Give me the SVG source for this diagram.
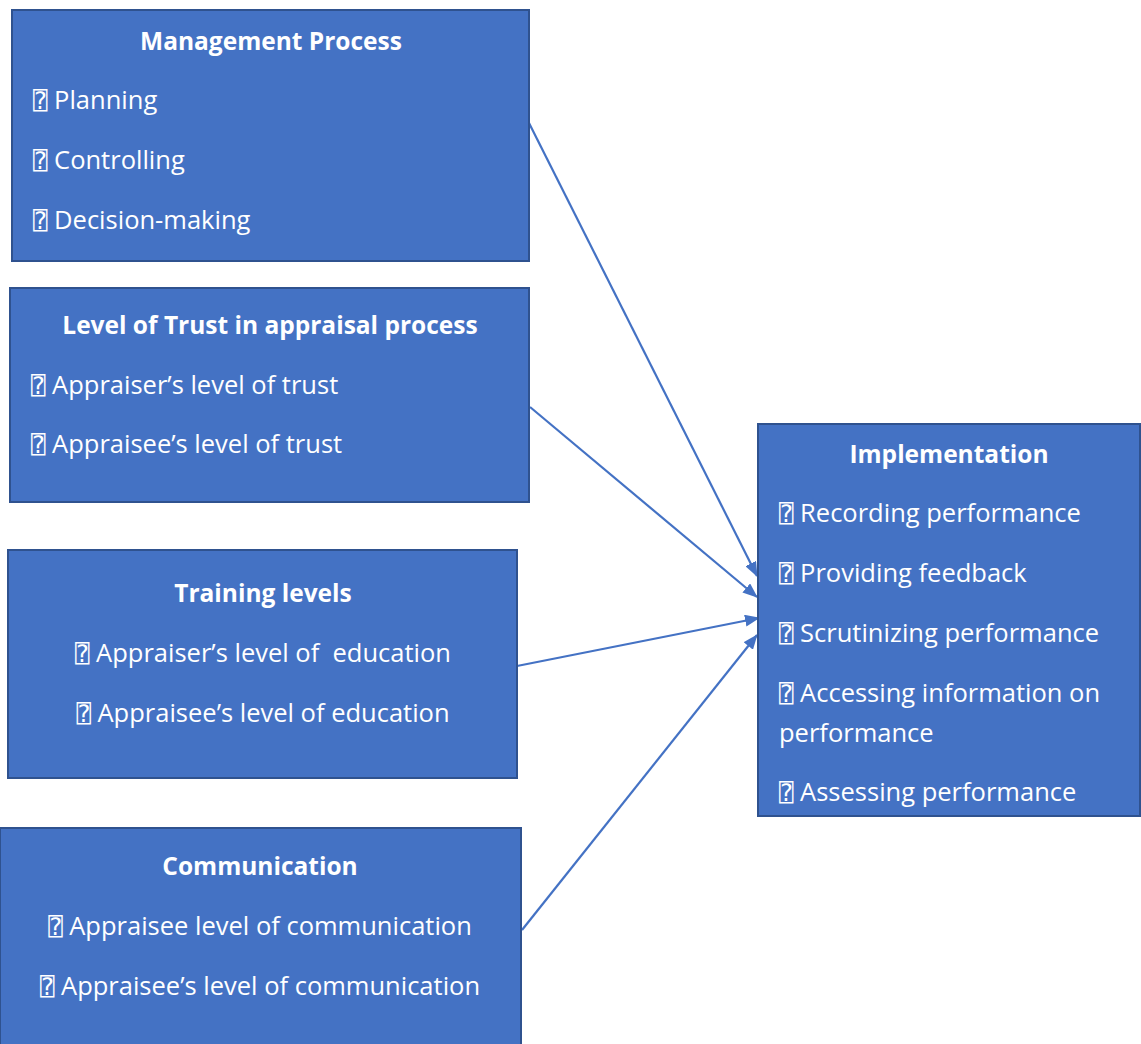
<svg xmlns="http://www.w3.org/2000/svg" width="1141" height="1044" viewBox="0 0 1141 1044">
  <style>
    .box { fill: #4472C4; stroke: #2F528F; stroke-width: 2; }
    .t { font-family: "Open Sans", "Liberation Sans", sans-serif; font-size: 25.5px; fill: #FFFFFF; }
    .h { font-weight: bold; text-anchor: middle; font-size: 24.5px; }
    .c { text-anchor: middle; }
    .b { font-family: "DejaVu Sans Mono", "DejaVu Sans", monospace; font-size: 24px; }
    .link { stroke: #4472C4; stroke-width: 2.2; fill: none; marker-end: url(#arrow); }
  </style>
  <defs>
    <marker id="arrow" viewBox="0 0 15 12" refX="14" refY="6" markerWidth="15" markerHeight="12" markerUnits="userSpaceOnUse" orient="auto">
      <path d="M0,0 L15,6 L0,12 Z" fill="#4472C4"/>
    </marker>
  </defs>
  <rect width="1141" height="1044" fill="#FFFFFF"/>

  <g id="connectors">
    <line class="link" x1="529" y1="123" x2="757" y2="576"/>
    <line class="link" x1="530" y1="407" x2="757" y2="597"/>
    <line class="link" x1="517" y1="666" x2="759" y2="618"/>
    <line class="link" x1="522" y1="930" x2="757" y2="635"/>
  </g>

  <g id="management-process">
    <rect class="box" x="12" y="10" width="517" height="251"/>
    <text class="t h" x="271" y="50">Management Process</text>
    <text class="t" x="33" y="109"><tspan class="b">⍰</tspan> Planning</text>
    <text class="t" x="33" y="169"><tspan class="b">⍰</tspan> Controlling</text>
    <text class="t" x="33" y="229"><tspan class="b">⍰</tspan> Decision-making</text>
  </g>

  <g id="level-of-trust">
    <rect class="box" x="10" y="288" width="519" height="214"/>
    <text class="t h" x="270" y="334">Level of Trust in appraisal process</text>
    <text class="t" x="31" y="394"><tspan class="b">⍰</tspan> Appraiser’s level of trust</text>
    <text class="t" x="31" y="453"><tspan class="b">⍰</tspan> Appraisee’s level of trust</text>
  </g>

  <g id="training-levels">
    <rect class="box" x="8" y="550" width="509" height="228"/>
    <text class="t h" x="263" y="602">Training levels</text>
    <text class="t c" x="263" y="662" xml:space="preserve"><tspan class="b">⍰</tspan> Appraiser’s level of  education</text>
    <text class="t c" x="263" y="722"><tspan class="b">⍰</tspan> Appraisee’s level of education</text>
  </g>

  <g id="communication">
    <rect class="box" x="0" y="828" width="521" height="230"/>
    <text class="t h" x="260" y="875">Communication</text>
    <text class="t c" x="260" y="935"><tspan class="b">⍰</tspan> Appraisee level of communication</text>
    <text class="t c" x="260" y="995"><tspan class="b">⍰</tspan> Appraisee’s level of communication</text>
  </g>

  <g id="implementation">
    <rect class="box" x="758" y="424" width="382" height="392"/>
    <text class="t h" x="949" y="463">Implementation</text>
    <text class="t" x="779" y="522"><tspan class="b">⍰</tspan> Recording performance</text>
    <text class="t" x="779" y="582"><tspan class="b">⍰</tspan> Providing feedback</text>
    <text class="t" x="779" y="642"><tspan class="b">⍰</tspan> Scrutinizing performance</text>
    <text class="t" x="779" y="702"><tspan class="b">⍰</tspan> Accessing information on</text>
    <text class="t" x="779" y="742">performance</text>
    <text class="t" x="779" y="801"><tspan class="b">⍰</tspan> Assessing performance</text>
  </g>
</svg>
